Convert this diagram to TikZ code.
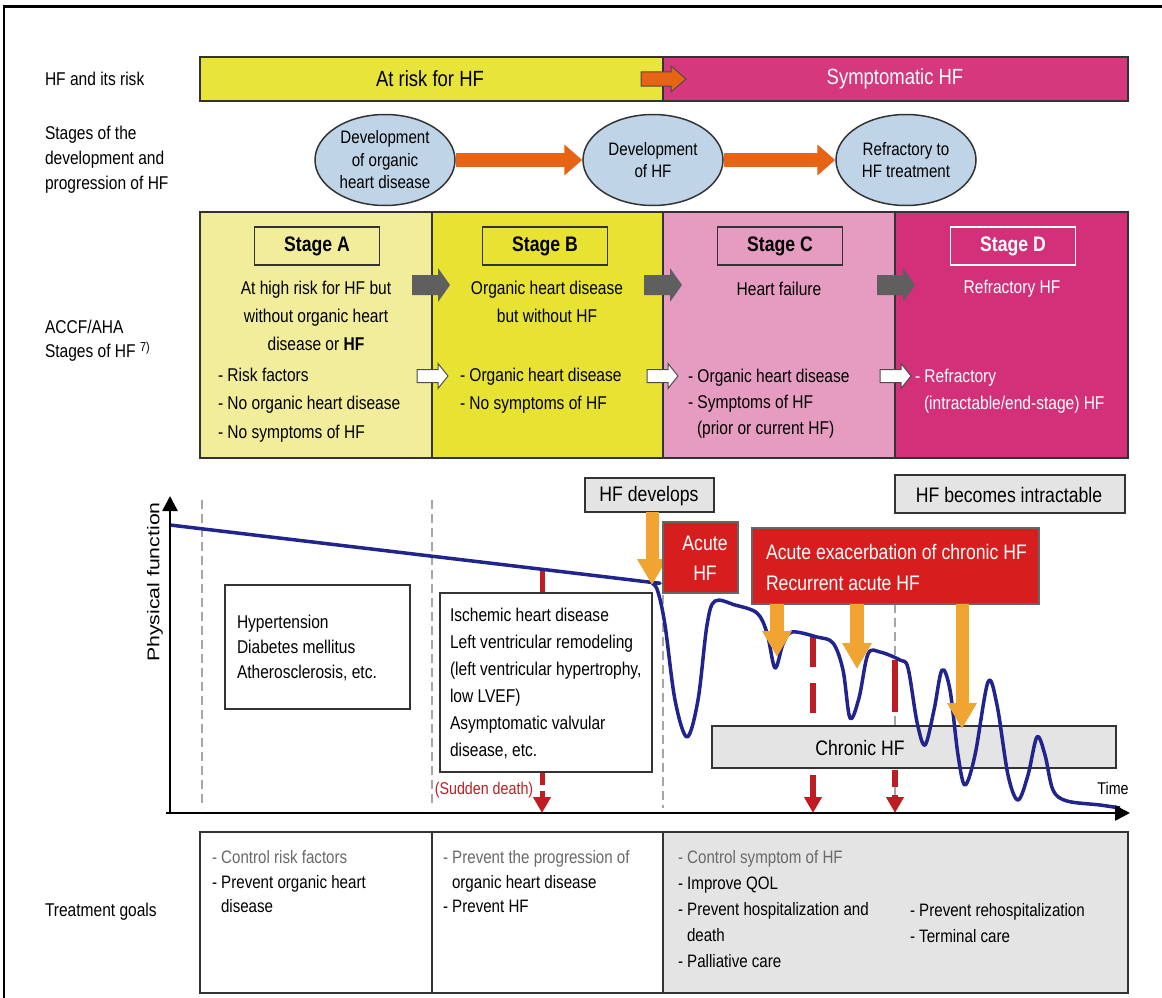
\documentclass[tikz,border=0pt]{standalone}
\usepackage{fontspec}
\setmainfont{Liberation Sans}[FakeStretch=0.84]
\newfontfamily\widesans{Liberation Sans}[FakeStretch=1.25]
\usetikzlibrary{arrows.meta,shapes.geometric,calc}
\pgfdeclarelayer{back}
\pgfsetlayers{back,main}
\definecolor{barY}{RGB}{232,228,58}
\definecolor{barM}{RGB}{214,56,126}
\definecolor{stA}{RGB}{242,237,155}
\definecolor{stB}{RGB}{232,226,50}
\definecolor{stC}{RGB}{230,156,192}
\definecolor{stD}{RGB}{212,48,122}
\definecolor{ellfill}{RGB}{192,212,232}
\definecolor{darrow}{RGB}{230,100,20}
\definecolor{garrow}{RGB}{95,95,95}
\definecolor{curvec}{RGB}{32,36,140}
\definecolor{redbox}{RGB}{214,30,30}
\definecolor{oarrow}{RGB}{240,165,50}
\definecolor{dred}{RGB}{190,30,35}
\definecolor{lgray}{RGB}{228,228,228}
\definecolor{tgray}{RGB}{105,105,105}
\newcommand{\fsz}[2]{\fontsize{#1}{#2}\selectfont}
\newcommand{\blkarrow}[7]{%
  \path[#7] (#1,#2-#4/2) -- (#1+#3-#6,#2-#4/2) -- (#1+#3-#6,#2-#5/2) -- (#1+#3,#2)
   -- (#1+#3-#6,#2+#5/2) -- (#1+#3-#6,#2+#4/2) -- (#1,#2+#4/2) -- cycle;}
\tikzset{
  txt/.style={inner sep=0, outer sep=0, font=\fsz{18.5}{28}},
  rbox/.style={draw=black!80, line width=1.3, inner sep=0, outer sep=0, anchor=north west},
  ell/.style={ellipse, draw=black!80, line width=1.5, fill=ellfill, minimum width=140, minimum height=91, inner sep=0},
  ellarr/.style={line width=14, draw=darrow, -{Triangle[length=18pt,width=30pt]}},
  stagelab/.style={draw=black!80, line width=1.3, minimum width=125, minimum height=38, inner sep=0, font=\fsz{21}{24}\bfseries},
  oarr/.style={line width=14, draw=oarrow, -{Triangle[length=26pt,width=28pt]}},
  reddash/.style={line width=6, draw=dred, -{Triangle[length=16pt,width=17pt]}},
  gdash/.style={line width=1.2, draw=black!35, dash pattern=on 9 off 5},
  axis/.style={line width=2.5, draw=black, -{Triangle[length=15pt,width=15pt]}},
}
\begin{document}
\begin{tikzpicture}[x=1pt,y=-1pt]
\useasboundingbox (0,0) rectangle (1162,998);
% frame
\draw[line width=3] (3,7) -- (1162,7);
\draw[line width=2] (4,7) -- (4,998);

% left labels
\node (labA) [txt, anchor=west] at (45,79) {HF and its risk};
\node (labB) [txt, anchor=north west, align=left, font=\fsz{18.5}{25}] at (45,126) {Stages of the\\development and\\progression of HF};
\node (labC) [txt, anchor=north west, align=left, font=\fsz{18.5}{24}] at (45,320) {ACCF/AHA\\Stages of HF \textsuperscript{7)}};
\node (labD) [txt, anchor=west] at (45,912) {Treatment goals};

% top bar
\node (risk) [rbox, fill=barY, minimum width=463, minimum height=44] at (200,57) {};
\node (symp) [rbox, fill=barM, minimum width=465, minimum height=44] at (663,57) {};
\node (riskt) [txt, font=\fsz{22}{24}] at (430,79) {At risk for HF};
\node (sympt) [txt, font=\fsz{22}{24}, text=white] at (895,79) {Symptomatic HF};
\blkarrow{641}{79}{45}{14}{26}{15}{fill=darrow, draw=black!70, line width=1}

% ellipses
\node (e1) [ell] at (385,160) {};
\node (e2) [ell] at (653,160) {};
\node (e3) [ell] at (906,160) {};
\node (e1t) [txt, align=center, font=\fsz{18}{22.5}] at (385,160) {Development\\of organic\\heart disease};
\node (e2t) [txt, align=center, font=\fsz{18}{22.5}] at (653,160) {Development\\of HF};
\node (e3t) [txt, align=center, font=\fsz{18}{22.5}] at (906,160) {Refractory to\\HF treatment};
\begin{pgfonlayer}{back}
\draw[ellarr] (e1) -- (e2);
\draw[ellarr] (e2) -- (e3);
\end{pgfonlayer}

% stage boxes
\node (sA) [rbox, fill=stA, minimum width=232, minimum height=246] at (200,212) {};
\node (sB) [rbox, fill=stB, minimum width=231, minimum height=246] at (432,212) {};
\node (sC) [rbox, fill=stC, minimum width=232, minimum height=246] at (663,212) {};
\node (sD) [rbox, fill=stD, minimum width=233, minimum height=246] at (895,212) {};
\node (lA) [stagelab] at (317,246) {Stage A};
\node (lB) [stagelab] at (545,246) {Stage B};
\node (lC) [stagelab] at (780,246) {Stage C};
\node (lD) [stagelab, draw=white, text=white] at (1013,246) {Stage D};

\node (dA) [txt, anchor=north, align=center] at (316,281) {At high risk for HF but\\without organic heart\\disease or \textbf{HF}};
\node (dB) [txt, anchor=north, align=center] at (547,281) {Organic heart disease\\but without HF};
\node (dC) [txt] at (779,289) {Heart failure};
\node (dD) [txt, text=white] at (1012,289) {Refractory HF};

\node (iA) [txt, anchor=north west, align=left, font=\fsz{18.5}{28.3}] at (218,368) {- Risk factors\\- No organic heart disease\\- No symptoms of HF};
\node (iB) [txt, anchor=north west, align=left, font=\fsz{18.5}{28}] at (460,368) {- Organic heart disease\\- No symptoms of HF};
\node (iC) [txt, anchor=north west, align=left, font=\fsz{18.5}{26}] at (688,369) {- Organic heart disease\\- Symptoms of HF\\\hspace*{9pt}(prior or current HF)};
\node (iD) [txt, anchor=north west, align=left, font=\fsz{18.5}{27}, text=white] at (915,369) {- Refractory\\\hspace*{9pt}(intractable/end-stage) HF};

\blkarrow{412}{285}{38}{20}{34}{12}{fill=garrow}
\blkarrow{644}{285}{38}{20}{34}{12}{fill=garrow}
\blkarrow{877}{285}{38}{20}{34}{12}{fill=garrow}
\blkarrow{417}{376}{31}{13}{25}{10}{fill=white, draw=black!70, line width=1}
\blkarrow{647}{376}{31}{13}{25}{10}{fill=white, draw=black!70, line width=1}
\blkarrow{880}{376}{31}{13}{25}{10}{fill=white, draw=black!70, line width=1}

% graph: guides
\coordinate (g1t) at (202,500); \coordinate (g1b) at (202,808);
\coordinate (g2t) at (432,500); \coordinate (g2b) at (432,808);
\coordinate (g3t) at (663,595); \coordinate (g3b) at (663,808);
\coordinate (g4t) at (895,604); \coordinate (g4b) at (895,808);
\draw[gdash] (g1t) -- (g1b);
\draw[gdash] (g2t) -- (g2b);
\draw[gdash] (g3t) -- (g3b);
\draw[gdash] (g4t) -- (g4b);

% red death lines
\coordinate (sd1) at (542,570); \coordinate (sd2) at (542,813);
\draw[reddash, line width=5, dash pattern=on 215 off 6] (sd1) -- (sd2);
\coordinate (rd1) at (813,637); \coordinate (rd2) at (813,813);
\draw[reddash, dash pattern=on 30 off 16] (rd1) -- (rd2);
\coordinate (rd3) at (895,660); \coordinate (rd4) at (895,813);
\draw[reddash, dash pattern=on 52 off 58 on 17 off 8] (rd3) -- (rd4);

% boxes in graph
\node (hyp) [rbox, fill=white, minimum width=185, minimum height=124] at (225,585) {};
\node (hypt) [txt, anchor=north west, align=left, font=\fsz{18.5}{25}] at (237,615) {Hypertension\\Diabetes mellitus\\Atherosclerosis, etc.};
\node (isc) [rbox, fill=white, minimum width=212, minimum height=179] at (440,593) {};
\node (isct) [txt, anchor=north west, align=left, font=\fsz{18.5}{27}] at (450,608) {Ischemic heart disease\\Left ventricular remodeling\\(left ventricular hypertrophy,\\low LVEF)\\Asymptomatic valvular\\disease, etc.};
\node (sdt) [txt, text=dred, font=\fsz{17}{20}] at (484,790) {(Sudden death)};

\node (chr) [rbox, fill=lgray, minimum width=404, minimum height=42] at (712,726) {};
\node (chrt) [txt, font=\fsz{21}{24}] at (860,748) {Chronic HF};

\node (hfd) [rbox, fill=lgray, minimum width=129, minimum height=34] at (585,478) {};
\node (hfdt) [txt, font=\fsz{21}{24}] at (649,496) {HF develops};
\node (hfi) [rbox, fill=lgray, minimum width=230, minimum height=38] at (895,475) {};
\node (hfit) [txt, font=\fsz{21}{24}] at (1009,495) {HF becomes intractable};

% curve
\draw[line width=3.5, curvec, line join=round] plot[smooth, tension=0.55] coordinates {
 (170,525) (400,552.4) (640,581) (652,583) (658,592) (665,625) (675,700) (687,737) (698,700)
 (707,625) (715,601) (735,605) (757,613) (767,633) (775,668) (783,644) (792,632) (817,637)
 (833,643) (843,670) (850,718) (859,698) (868,654) (880,652) (900,660) (908,668) (917,722)
 (925,745) (934,710) (942,670) (950,690) (958,755) (965,785) (975,755) (988,682) (997,705)
 (1008,775) (1018,800) (1028,775) (1037,737) (1045,755) (1053,790) (1067,801) (1100,805) (1120,808)};

% orange arrows
\coordinate (oa1) at (652,585);
\draw[oarr, line width=13] (hfd.south -| oa1) -- (oa1);

\node (ahf) [rbox, fill=redbox, draw=black!60, minimum width=75, minimum height=71] at (663,522) {};
\node (ahft) [txt, align=center, text=white, font=\fsz{21}{30}] at (705,558) {Acute\\HF};
\node (aex) [rbox, fill=redbox, draw=black!60, minimum width=287, minimum height=76] at (752,528) {};
\node (aext) [txt, anchor=north west, align=left, text=white, font=\fsz{21}{31}] at (766,544) {Acute exacerbation of chronic HF\\Recurrent acute HF};

\coordinate (oa2) at (777,657);
\coordinate (oa3) at (857,669);
\coordinate (oa4) at (962,729);
\draw[oarr] (aex.south -| oa2) -- (oa2);
\draw[oarr] (aex.south -| oa3) -- (oa3);
\draw[oarr, line width=13] (aex.south -| oa4) -- (oa4);

% axes
\coordinate (orig) at (170,813);
\coordinate (ytop) at (170,496);
\coordinate (xst) at (166,813);
\coordinate (xend) at (1130,813);
\draw[axis] (orig) -- (ytop);
\draw[axis] (xst) -- (xend);
\node (time) [txt, font=\fsz{17}{20}] at (1113,788) {Time};
\node (pf) [txt, rotate=90, font=\fsz{17}{20}\widesans] at (155,582) {Physical function};

% treatment goals
\node (tA) [rbox, fill=white, minimum width=232, minimum height=161] at (200,832) {};
\node (tB) [rbox, fill=white, minimum width=231, minimum height=161] at (432,832) {};
\node (tC) [rbox, fill=lgray, minimum width=465, minimum height=161] at (663,832) {};
\node (tAt) [txt, anchor=north west, align=left, font=\fsz{18}{24.5}] at (212,850.5) {\textcolor{tgray}{- Control risk factors}\\- Prevent organic heart\\\hspace*{9pt}disease};
\node (tBt) [txt, anchor=north west, align=left, font=\fsz{18}{24.5}] at (443,850.5) {\textcolor{tgray}{- Prevent the progression of}\\\hspace*{9pt}organic heart disease\\- Prevent HF};
\node (tCt) [txt, anchor=north west, align=left, font=\fsz{18}{26}] at (678,850.5) {\textcolor{tgray}{- Control symptom of HF}\\- Improve QOL\\- Prevent hospitalization and\\\hspace*{9pt}death\\- Palliative care};
\node (tDt) [txt, anchor=north west, align=left, font=\fsz{18}{26}] at (910,903.5) {- Prevent rehospitalization\\- Terminal care};
\end{tikzpicture}
\end{document}
